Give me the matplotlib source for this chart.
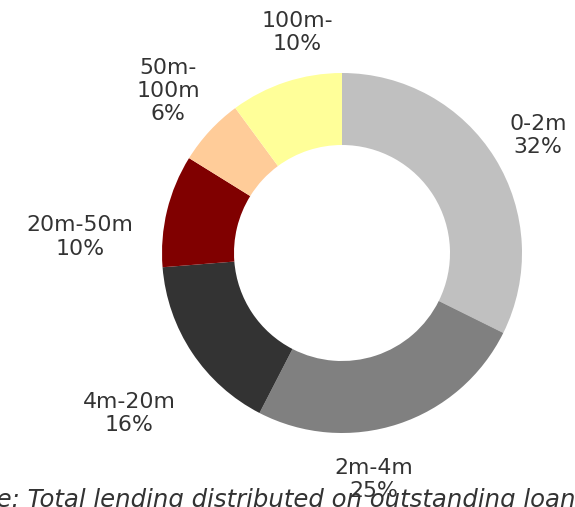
import matplotlib.pyplot as plt
import numpy as np

# loan size buckets and share of total lending (%)
categories = ['0-2m', '2m-4m', '4m-20m', '20m-50m', '50m-\n100m', '100m-']
shares = [32, 25, 16, 10, 6, 10]
colors = ['#C0C0C0', '#808080', '#333333', '#800000', '#FFCC99', '#FFFF99']

# label placement: (angle in degrees, distance in radii) around the centre
label_pos = [(31, 1.27), (-82, 1.27), (-143, 1.48), (176.5, 1.46), (137, 1.32), (101.5, 1.25)]

W, H = 575, 507
fig = plt.figure(figsize=(W / 100, H / 100), dpi=100)

cx, cy, R = 342, 253, 180
ax = fig.add_axes([(cx - R) / W, (H - cy - R) / H, 2 * R / W, 2 * R / H])

ax.pie(
    shares,
    colors=colors,
    startangle=90,
    counterclock=False,
    radius=1,
    wedgeprops=dict(width=0.4, edgecolor='none'),
)
ax.set_xlim(-1, 1)
ax.set_ylim(-1, 1)
ax.set_aspect('equal')
ax.axis('off')

for cat, val, (ang, dist) in zip(categories, shares, label_pos):
    a = np.deg2rad(ang)
    ax.text(dist * np.cos(a), dist * np.sin(a), f'{cat}\n{val}%',
            ha='center', va='center', fontsize=15.8, color='#333333',
            linespacing=1.2, clip_on=False)

# caption runs past both edges of the picture, as in the original
fig.text(-46 / W, 0 / H, 'Note: Total lending distributed on outstanding loan size',
         ha='left', va='baseline', fontsize=17.6, style='italic', color='#333333')

fig.savefig('out.png', dpi=100)
